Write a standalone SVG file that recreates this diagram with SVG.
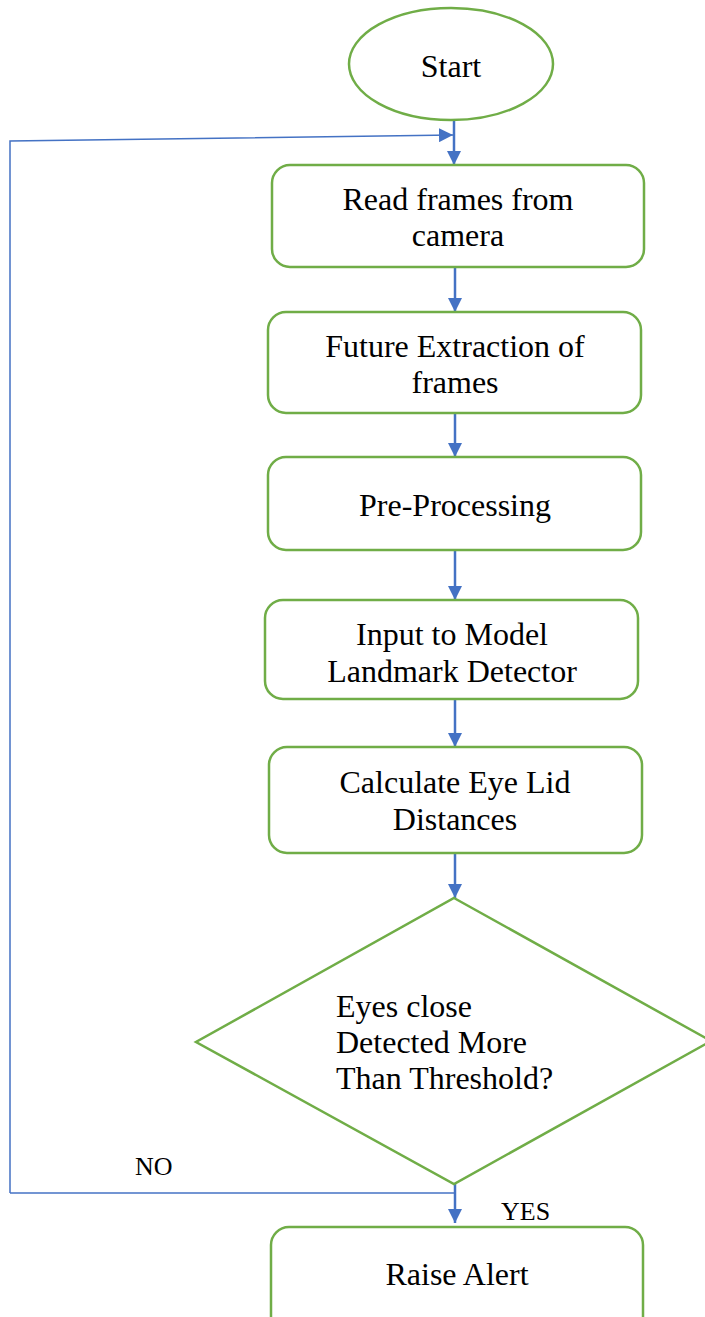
<svg xmlns="http://www.w3.org/2000/svg" width="705" height="1317" viewBox="0 0 705 1317">
<style>
.n{fill:#fff;stroke:#70AD47;stroke-width:2.5}
.t{font-family:"Liberation Serif","Times New Roman",serif;font-size:32px;fill:#000;text-anchor:middle}
.tl{font-family:"Liberation Serif","Times New Roman",serif;font-size:32px;fill:#000}
.s{font-family:"Liberation Serif","Times New Roman",serif;font-size:26px;fill:#000}
.c{fill:none;stroke:#4472C4;stroke-width:2.5}
.f{fill:none;stroke:#4472C4;stroke-width:1.5}
</style>
<defs>
<marker id="ah" viewBox="0 0 10 10" refX="10" refY="5" markerWidth="14" markerHeight="14" markerUnits="userSpaceOnUse" orient="auto">
<path d="M0,0 L10,5 L0,10 Z" fill="#4472C4"/>
</marker>
</defs>
<g id="connectors">
<line class="c" x1="454" y1="120" x2="454" y2="165" marker-end="url(#ah)"/>
<polyline class="f" points="10,1193 10,141 453,135" marker-end="url(#ah)"/>
<line class="c" x1="455" y1="267" x2="455" y2="312" marker-end="url(#ah)"/>
<line class="c" x1="455" y1="413" x2="455" y2="457" marker-end="url(#ah)"/>
<line class="c" x1="455" y1="550" x2="455" y2="600" marker-end="url(#ah)"/>
<line class="c" x1="455" y1="699" x2="455" y2="747" marker-end="url(#ah)"/>
<line class="c" x1="455" y1="853" x2="455" y2="898" marker-end="url(#ah)"/>
<line class="f" x1="10" y1="1193" x2="455" y2="1193"/>
<line class="c" x1="455" y1="1184" x2="455" y2="1223" marker-end="url(#ah)"/>
<text class="s" x="135" y="1175">NO</text>
<text class="s" x="501" y="1220">YES</text>
</g>
<g id="start">
<ellipse class="n" cx="451" cy="64" rx="102" ry="56"/>
<text class="t" x="451" y="77">Start</text>
</g>
<g id="read">
<rect class="n" x="272" y="165" width="372" height="102" rx="18"/>
<text class="t" x="458" y="210">Read frames from</text>
<text class="t" x="458" y="246">camera</text>
</g>
<g id="extract">
<rect class="n" x="268" y="312" width="373" height="101" rx="18"/>
<text class="t" x="455" y="357">Future Extraction of</text>
<text class="t" x="455" y="393">frames</text>
</g>
<g id="preprocess">
<rect class="n" x="268" y="457" width="373" height="93" rx="18"/>
<text class="t" x="455" y="516">Pre-Processing</text>
</g>
<g id="model">
<rect class="n" x="265" y="600" width="373" height="99" rx="18"/>
<text class="t" x="452" y="645">Input to Model</text>
<text class="t" x="452" y="682">Landmark Detector</text>
</g>
<g id="calc">
<rect class="n" x="269" y="747" width="373" height="106" rx="18"/>
<text class="t" x="455" y="793">Calculate Eye Lid</text>
<text class="t" x="455" y="830">Distances</text>
</g>
<g id="decision">
<polygon class="n" points="454,898 711,1041 454,1184 196,1042"/>
<text class="tl" x="336" y="1017">Eyes close</text>
<text class="tl" x="336" y="1053">Detected More</text>
<text class="tl" x="336" y="1089">Than Threshold?</text>
</g>
<g id="alert">
<rect class="n" x="271" y="1227" width="372" height="110" rx="18"/>
<text class="t" x="457" y="1285">Raise Alert</text>
</g>
</svg>
